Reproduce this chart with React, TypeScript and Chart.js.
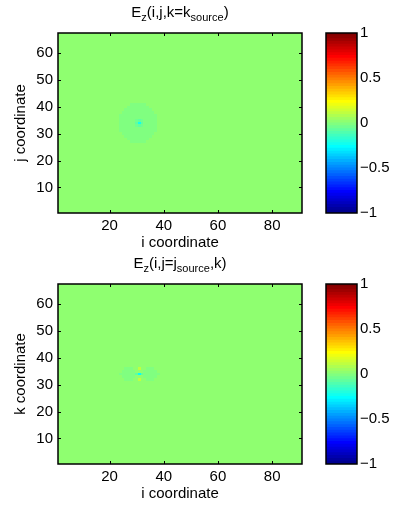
import React, { useEffect, useRef } from "react";
import { Chart, registerables } from "chart.js";

Chart.register(...registerables);

const FONT = "'Liberation Sans', Arial, Helvetica, sans-serif";
const FS = 15;
const SUB_FS = 11;

// Axis limits and ticks
const I_LIMITS = [1, 91];
const J_LIMITS = [0.5, 67.5];
const I_TICKS = [20, 40, 60, 80];
const J_TICKS = [10, 20, 30, 40, 50, 60];
const C_LIMITS = [-1, 1];
const C_TICKS = [-1, -0.5, 0, 0.5, 1];
const N_COLORS = 64;

// Field value everywhere except listed cells
const FIELD_VALUE = 0;

// Slice 1: Ez(i,j,k=ksource) — halo rows [j, iFirst, iLast]
const SLICE1_HALO_ROWS = [
  [41, 28, 33], [40, 27, 34], [39, 26, 35], [38, 25, 36], [37, 24, 37],
  [36, 24, 37], [35, 24, 37], [34, 24, 37], [33, 24, 37], [32, 24, 37],
  [31, 24, 37], [30, 25, 36], [29, 26, 35], [28, 27, 34], [27, 28, 33],
];
const SLICE1_HALO_VALUE = -0.02;
// core cells [i, j, value]
const SLICE1_CORE = [
  [30, 35, -0.06], [31, 35, -0.08], [32, 35, -0.06],
  [30, 34, -0.08], [31, 34, -0.25], [32, 34, -0.08],
  [30, 33, -0.06], [31, 33, -0.08], [32, 33, -0.06],
];

// Slice 2: Ez(i,j=jsource,k) — lobe rows [k, iFirst, iLast]
const SLICE2_LOBE_ROWS = [
  [36, 26, 28], [36, 34, 36],
  [35, 25, 29], [35, 33, 37],
  [34, 24, 29], [34, 33, 38],
  [33, 25, 29], [33, 33, 37],
  [32, 26, 28], [32, 34, 36],
];
const SLICE2_LOBE_VALUE = -0.02;
const SLICE2_CORE = [
  [31, 36, 0.1], [31, 35, 0.03],
  [30, 34, -0.08], [31, 34, -0.27], [32, 34, -0.08],
  [31, 33, 0.03], [31, 32, 0.1],
];

const TITLE1: [string, boolean][] = [["E", false], ["z", true], ["(i,j,k=k", false], ["source", true], [")", false]];
const TITLE2: [string, boolean][] = [["E", false], ["z", true], ["(i,j=j", false], ["source", true], [",k)", false]];
const X_LABEL = "i coordinate";
const Y_LABEL1 = "j coordinate";
const Y_LABEL2 = "k coordinate";

type Cell = { x: number; y: number; v: number };

function buildCells(rows: number[][], rowValue: number, core: number[][]): Cell[] {
  const out: Cell[] = [];
  for (const [j, a, b] of rows) for (let i = a; i <= b; i++) out.push({ x: i, y: j, v: rowValue });
  for (const [i, j, v] of core) out.push({ x: i, y: j, v });
  return out;
}

function jetRGB(k: number): number[] {
  const u = (t: number) => (t < 1 || t > 47 ? 0 : t <= 16 ? t / 16 : t <= 31 ? 1 : (48 - t) / 16);
  return [u(k - 24), u(k - 8), u(k + 8)];
}
function jetIndex(v: number): number {
  const k = Math.floor(((v - C_LIMITS[0]) / (C_LIMITS[1] - C_LIMITS[0])) * N_COLORS) + 1;
  return Math.max(1, Math.min(N_COLORS, k));
}
function rgbStr(k: number): string {
  const [r, g, b] = jetRGB(k);
  return `rgb(${Math.round(r * 255)},${Math.round(g * 255)},${Math.round(b * 255)})`;
}
const colorFor = (v: number) => rgbStr(jetIndex(v));

const fmt = (v: number) => (v < 0 ? "\u2212" + String(Math.abs(v)) : String(v));
const font = { family: FONT, size: FS };

const heatPlugin = (fieldValue: number) => ({
  id: "heatCells",
  beforeDatasetsDraw(chart: any) {
    const { ctx, chartArea: a, scales } = chart;
    const xs = scales.x, ys = scales.y;
    ctx.save();
    ctx.beginPath();
    ctx.rect(a.left, a.top, a.right - a.left, a.bottom - a.top);
    ctx.clip();
    ctx.fillStyle = colorFor(fieldValue);
    ctx.fillRect(a.left, a.top, a.right - a.left, a.bottom - a.top);
    for (const ds of chart.data.datasets) {
      for (const c of ds.data as Cell[]) {
        const x0 = Math.round(xs.getPixelForValue(c.x - 0.5));
        const x1 = Math.round(xs.getPixelForValue(c.x + 0.5));
        const y0 = Math.round(ys.getPixelForValue(c.y + 0.5));
        const y1 = Math.round(ys.getPixelForValue(c.y - 0.5));
        ctx.fillStyle = colorFor(c.v);
        ctx.fillRect(x0, y0, x1 - x0, y1 - y0);
      }
    }
    ctx.restore();
  },
});

const framePlugin = (withTicks: boolean) => ({
  id: "frame",
  afterDraw(chart: any) {
    const { ctx, chartArea: a, scales } = chart;
    ctx.save();
    ctx.strokeStyle = "#000";
    if (withTicks) {
      ctx.lineWidth = 1;
      ctx.beginPath();
      for (const t of I_TICKS) {
        const px = Math.round(scales.x.getPixelForValue(t)) + 0.5;
        ctx.moveTo(px, a.bottom);
        ctx.lineTo(px, a.bottom - 3);
        ctx.moveTo(px, a.top);
        ctx.lineTo(px, a.top + 3);
      }
      for (const t of J_TICKS) {
        const py = Math.round(scales.y.getPixelForValue(t)) + 0.5;
        ctx.moveTo(a.left, py);
        ctx.lineTo(a.left + 3, py);
        ctx.moveTo(a.right, py);
        ctx.lineTo(a.right - 3, py);
      }
      ctx.stroke();
    }
    ctx.lineWidth = 1.5;
    ctx.strokeRect(a.left, a.top, a.right - a.left, a.bottom - a.top);
    ctx.restore();
  },
});

const titlePlugin = (parts: [string, boolean][]) => ({
  id: "subTitle",
  afterDraw(chart: any) {
    const { ctx, chartArea: a } = chart;
    ctx.save();
    const mainF = `${FS}px ${FONT}`;
    const subF = `${SUB_FS}px ${FONT}`;
    let w = 0;
    for (const [t, s] of parts) {
      ctx.font = s ? subF : mainF;
      w += ctx.measureText(t).width;
    }
    let x = (a.left + a.right) / 2 - w / 2;
    const y = a.top - 16;
    ctx.fillStyle = "#000";
    ctx.textAlign = "left";
    ctx.textBaseline = "alphabetic";
    for (const [t, s] of parts) {
      ctx.font = s ? subF : mainF;
      ctx.fillText(t, x, s ? y + 4 : y);
      x += ctx.measureText(t).width;
    }
    ctx.restore();
  },
});

function makeHeatmap(canvas: HTMLCanvasElement, cells: Cell[], title: [string, boolean][], yLabel: string) {
  return new Chart(canvas, {
    type: "scatter",
    data: { datasets: [{ data: cells as any, pointRadius: 0, pointHoverRadius: 0 }] },
    options: {
      responsive: false,
      animation: false,
      devicePixelRatio: 1,
      events: [],
      layout: { padding: { left: 0, top: 33, right: 8, bottom: 0 } },
      plugins: { legend: { display: false }, tooltip: { enabled: false } },
      scales: {
        x: {
          type: "linear",
          min: I_LIMITS[0],
          max: I_LIMITS[1],
          afterBuildTicks: (s: any) => { s.ticks = I_TICKS.map((value) => ({ value })); },
          afterFit: (s: any) => { s.height = 41; },
          grid: { display: false, drawTicks: false },
          border: { display: false },
          ticks: { padding: 4, color: "#000", font, maxRotation: 0, callback: (v: any) => fmt(Number(v)) },
          title: { display: true, text: X_LABEL, color: "#000", font, padding: { top: 0, bottom: 2 } },
        },
        y: {
          type: "linear",
          position: "left",
          min: J_LIMITS[0],
          max: J_LIMITS[1],
          afterBuildTicks: (s: any) => { s.ticks = J_TICKS.map((value) => ({ value })); },
          afterFit: (s: any) => { s.width = 58; },
          grid: { display: false, drawTicks: false },
          border: { display: false },
          ticks: { padding: 5, color: "#000", font, callback: (v: any) => fmt(Number(v)) },
          title: { display: true, text: yLabel, color: "#000", font, padding: { top: 12, bottom: 0 } },
        },
      },
    } as any,
    plugins: [heatPlugin(FIELD_VALUE), framePlugin(true), titlePlugin(title)],
  });
}

function makeColorbar(canvas: HTMLCanvasElement) {
  const step = (C_LIMITS[1] - C_LIMITS[0]) / N_COLORS;
  const datasets = [];
  for (let k = 1; k <= N_COLORS; k++) {
    const lo = C_LIMITS[0] + (k - 1) * step;
    datasets.push({
      data: [[lo, lo + step]],
      backgroundColor: rgbStr(k),
      borderWidth: 0,
      grouped: false,
      barPercentage: 1,
      categoryPercentage: 1,
      inflateAmount: 0.5,
    });
  }
  return new Chart(canvas, {
    type: "bar",
    data: { labels: [""], datasets: datasets as any },
    options: {
      responsive: false,
      animation: false,
      devicePixelRatio: 1,
      events: [],
      layout: { padding: { left: 16, top: 33, right: 0, bottom: 41 } },
      plugins: { legend: { display: false }, tooltip: { enabled: false } },
      scales: {
        x: { display: false },
        y: {
          type: "linear",
          position: "right",
          min: C_LIMITS[0],
          max: C_LIMITS[1],
          afterBuildTicks: (s: any) => { s.ticks = C_TICKS.map((value) => ({ value })); },
          afterFit: (s: any) => { s.width = 39; },
          grid: { display: false, drawTicks: false },
          border: { display: false },
          ticks: { padding: 3, color: "#000", font, callback: (v: any) => fmt(Number(v)) },
        },
      },
    } as any,
    plugins: [framePlugin(false)],
  });
}

export default function App() {
  const h1 = useRef<HTMLCanvasElement>(null);
  const c1 = useRef<HTMLCanvasElement>(null);
  const h2 = useRef<HTMLCanvasElement>(null);
  const c2 = useRef<HTMLCanvasElement>(null);

  useEffect(() => {
    const cells1 = buildCells(SLICE1_HALO_ROWS, SLICE1_HALO_VALUE, SLICE1_CORE);
    const cells2 = buildCells(SLICE2_LOBE_ROWS, SLICE2_LOBE_VALUE, SLICE2_CORE);
    const charts = [
      makeHeatmap(h1.current!, cells1, TITLE1, Y_LABEL1),
      makeColorbar(c1.current!),
      makeHeatmap(h2.current!, cells2, TITLE2, Y_LABEL2),
      makeColorbar(c2.current!),
    ];
    return () => charts.forEach((c) => c.destroy());
  }, []);

  const abs = (left: number, top: number): React.CSSProperties => ({ position: "absolute", left, top });
  return (
    <div style={{ position: "fixed", left: 0, top: 0, width: 396, height: 508, background: "#fff" }}>
      <canvas ref={h1} width={310} height={254} style={abs(0, 0)} />
      <canvas ref={c1} width={86} height={254} style={abs(310, 0)} />
      <canvas ref={h2} width={310} height={254} style={abs(0, 251)} />
      <canvas ref={c2} width={86} height={254} style={abs(310, 251)} />
    </div>
  );
}
